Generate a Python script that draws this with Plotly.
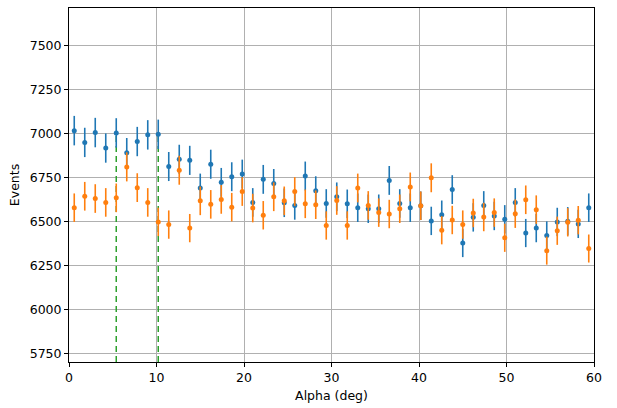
import numpy as np
import plotly.graph_objects as go

alpha = [round(0.6 + 1.2 * i, 1) for i in range(50)]

blue_events = [7015, 6948, 7004, 6916, 7002, 6890, 6953, 6991, 6994, 6811,
               6852, 6846, 6689, 6824, 6721, 6753, 6768, 6607, 6738, 6715,
               6605, 6590, 6757, 6674, 6601, 6639, 6599, 6577, 6571, 6571,
               6732, 6601, 6577, 6588, 6502, 6537, 6680, 6376, 6522, 6590,
               6530, 6511, 6607, 6433, 6461, 6419, 6496, 6500, 6485, 6577]

orange_events = [6577, 6642, 6629, 6607, 6633, 6809, 6691, 6607, 6496, 6481,
                 6790, 6461, 6616, 6596, 6624, 6580, 6669, 6575, 6534, 6639,
                 6616, 6669, 6599, 6594, 6476, 6618, 6476, 6689, 6590, 6549,
                 6541, 6571, 6695, 6588, 6747, 6449, 6507, 6481, 6547, 6524,
                 6549, 6406, 6543, 6622, 6566, 6333, 6446, 6494, 6506, 6345]

cut_lines = [5.4, 10.2]
cut_tops = [7002, 6994]
y_range = [5700, 7712]
x_range = [0, 60]
x_ticks = [0, 10, 20, 30, 40, 50, 60]
y_ticks = [5750, 6000, 6250, 6500, 6750, 7000, 7250, 7500]

fig = go.Figure()

for xv, top in zip(cut_lines, cut_tops):
    fig.add_trace(go.Scatter(x=[xv, xv], y=[y_range[0], top], mode="lines",
                             line=dict(color="#2ca02c", width=1.5, dash="6px,4px"),
                             showlegend=False, hoverinfo="skip"))

for vals, col in [(blue_events, "#1f77b4"), (orange_events, "#ff7f0e")]:
    fig.add_trace(go.Scatter(
        x=alpha, y=vals, mode="markers",
        marker=dict(color=col, size=5),
        error_y=dict(type="data", array=list(np.sqrt(vals)), color=col,
                     thickness=1.6, width=0, visible=True),
        showlegend=False))

axis_common = dict(showline=True, mirror=True, linecolor="black", linewidth=1,
                   ticks="outside", ticklen=4, tickcolor="black",
                   showgrid=True, gridcolor="#b0b0b0", gridwidth=0.8,
                   zeroline=False,
                   tickfont=dict(family="DejaVu Sans", size=12.5, color="black"),
                   title_font=dict(family="DejaVu Sans", size=12.5, color="black"))

fig.update_xaxes(range=x_range, tickvals=x_ticks, title_text="Alpha (deg)",
                 title_standoff=7, **axis_common)
fig.update_yaxes(range=y_range, tickvals=y_ticks, title_text="Events",
                 title_standoff=7, **axis_common)

fig.update_layout(width=617, height=408,
                  margin=dict(l=69, r=23, t=7, b=43),
                  plot_bgcolor="white", paper_bgcolor="white",
                  font=dict(family="DejaVu Sans", color="black"))

fig.write_html("out.html")
